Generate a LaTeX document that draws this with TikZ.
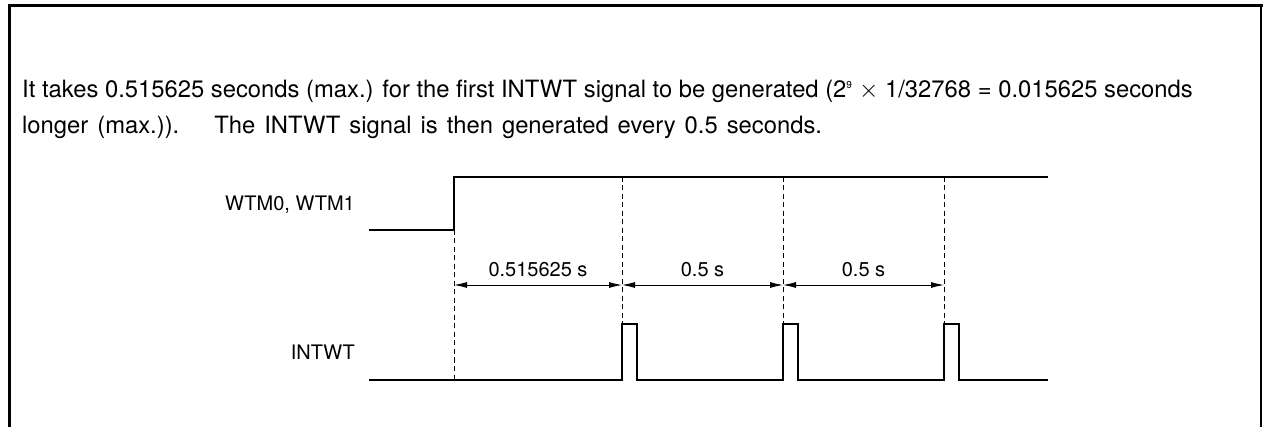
\documentclass[tikz,border=0pt]{standalone}
\usepackage{fontspec}
\setmainfont{TeX Gyre Heros}
\usetikzlibrary{arrows.meta}
\begin{document}
\begin{tikzpicture}[x=1pt,y=-1pt,
  frame/.style={line width=3pt},
  sig/.style={line width=2.8pt,line join=miter},
  guide/.style={line width=1pt,dash pattern=on 5pt off 3.5pt},
  dim/.style={line width=0.9pt,{Latex[length=13pt,width=6pt]}-{Latex[length=13pt,width=6pt]}},
  txt/.style={font=\fontsize{23.8}{28}\selectfont,anchor=base west,inner sep=0pt},
  lbl/.style={font=\fontsize{20}{24}\selectfont,inner sep=0pt}]
\useasboundingbox (0,0) rectangle (1263,427);
\draw[frame,line cap=rect] (9,427) -- (9,6) -- (1261,6);
\draw[line width=2pt] (1261,6) -- (1261,427);
\node[txt] (l1) at (22,98) {It takes 0.515625 seconds (max.) for the first INTWT signal to be generated (2\textsuperscript{\fontsize{10}{10}\selectfont 9} $\times$ 1/32768 = 0.015625 seconds};
\node[txt] (l2) at (22,134) {\spaceskip=9pt longer (max.)).\hspace{1em} The INTWT signal is then generated every 0.5 seconds.};
% signal labels
\node[lbl,anchor=east] (wtm) at (355,205) {WTM0, WTM1};
\node[lbl,anchor=east] (intwt) at (355,352) {INTWT};
% key coordinates
\coordinate (r) at (454,230);
\coordinate (p1) at (622,324);
\coordinate (p2) at (783,324);
\coordinate (p3) at (944,324);
\coordinate (rb) at (454,380);
% WTM signal
\draw[sig] (369,230) -- (r) -- (454,177) -- (1048,177);
% INTWT signal
\draw[sig] (369,380) -- (622,380) -- (p1) -- (637,324) -- (637,380) -- (783,380) -- (p2) -- (798,324) -- (798,380) -- (944,380) -- (p3) -- (959,324) -- (959,380) -- (1048,380);
% guides
\draw[guide] (r) -- (rb);
\draw[guide] (622,177) -- (p1);
\draw[guide] (783,177) -- (p2);
\draw[guide] (944,177) -- (p3);
% dimensions
\coordinate (d0) at (454,285);
\coordinate (d1) at (622,285);
\coordinate (d2) at (783,285);
\coordinate (d3) at (944,285);
\draw[dim] (d0) -- node[lbl,above=8pt] (t1) {0.515625 s} (d1);
\draw[dim] (d1) -- node[lbl,above=8pt] (t2) {0.5 s} (d2);
\draw[dim] (d2) -- node[lbl,above=8pt] (t3) {0.5 s} (d3);
\end{tikzpicture}
\end{document}
